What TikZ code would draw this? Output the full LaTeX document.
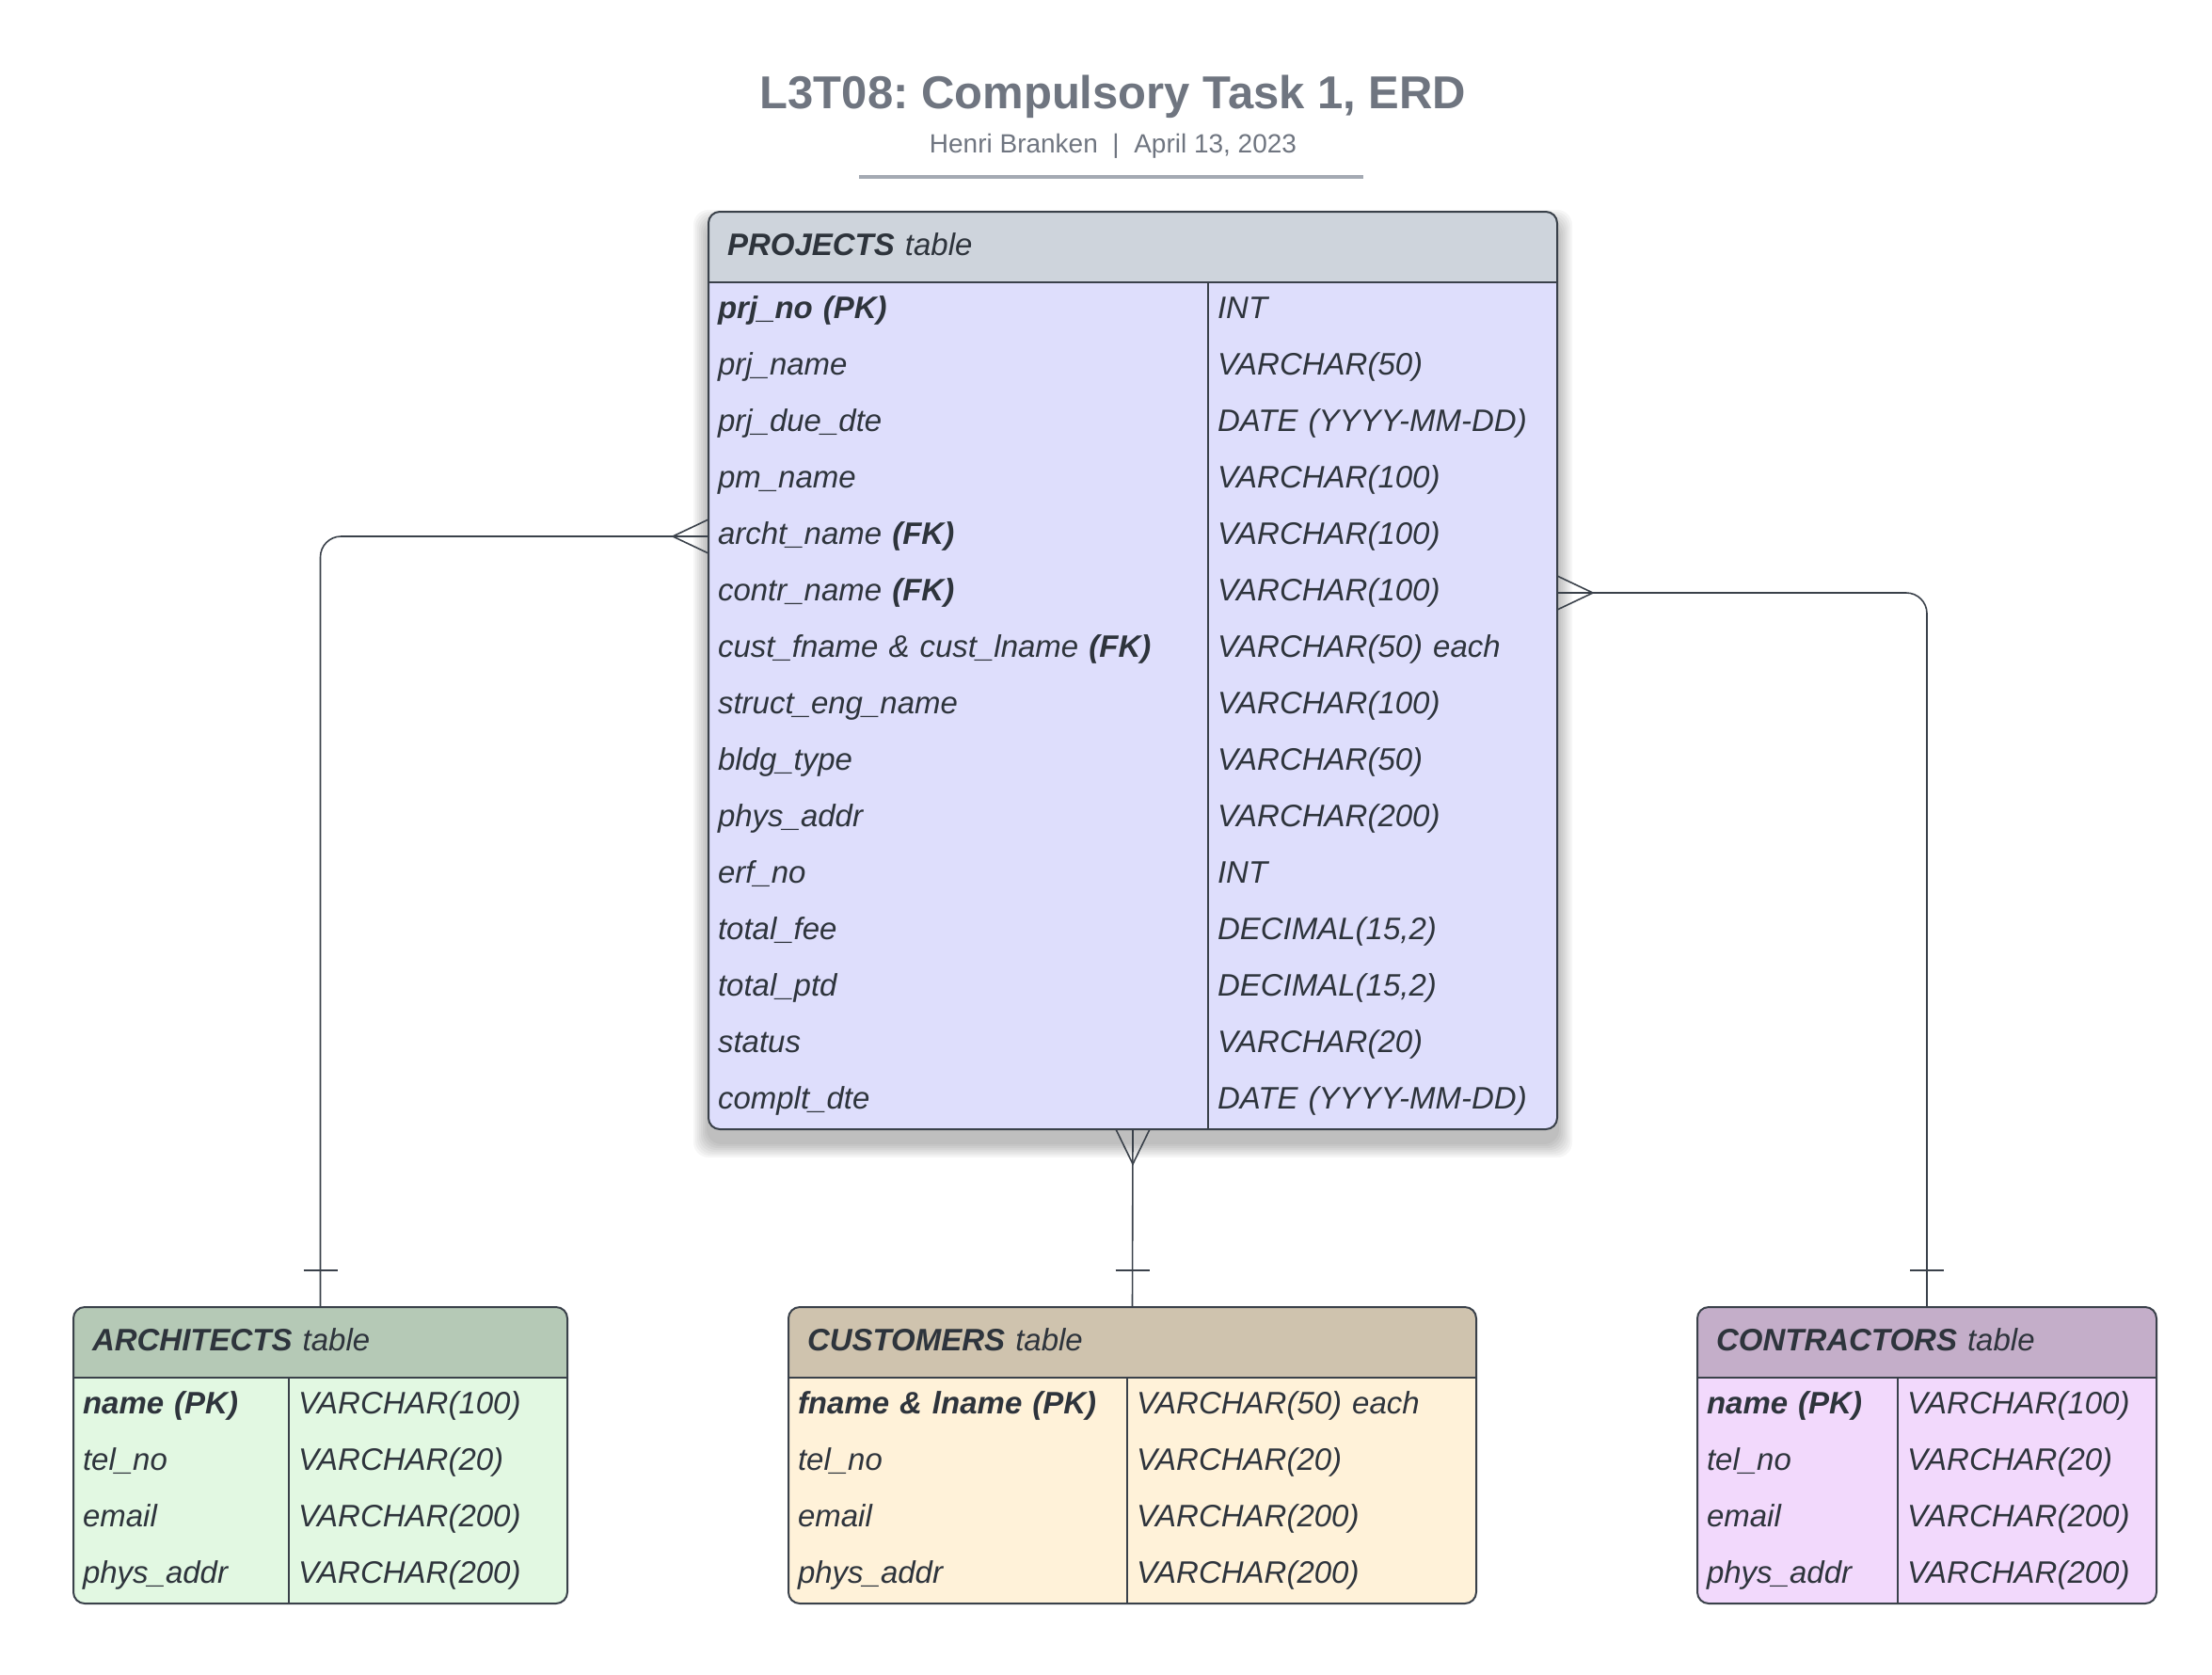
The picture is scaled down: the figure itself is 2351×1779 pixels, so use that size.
\documentclass[tikz,border=0pt]{standalone}
\usepackage{fontspec}
\setmainfont{Liberation Sans}
\frenchspacing
\usetikzlibrary{positioning,backgrounds,calc}

\definecolor{titlec}{RGB}{111,117,128}
\definecolor{rulec}{RGB}{164,170,179}
\definecolor{inkc}{RGB}{46,52,60}
\definecolor{linec}{RGB}{58,65,74}
\definecolor{prjhead}{RGB}{206,212,220}
\definecolor{prjbody}{RGB}{222,222,252}
\definecolor{archhead}{RGB}{181,201,182}
\definecolor{archbody}{RGB}{226,248,226}
\definecolor{custhead}{RGB}{207,195,174}
\definecolor{custbody}{RGB}{255,242,217}
\definecolor{conthead}{RGB}{196,174,201}
\definecolor{contbody}{RGB}{242,217,252}

\begin{document}
\begin{tikzpicture}[x=0.5pt, y=-0.5pt,
cell/.style={rectangle, outer sep=0pt, inner xsep=5pt, inner ysep=0pt, minimum height=30pt,
  align=left, text height=12pt, text depth=3.5pt, text=inkc,
  font=\fontsize{16.5}{19}\selectfont\itshape, node distance=0pt},
hdr/.style={cell, inner xsep=10pt, minimum height=37.5pt},
frame/.style={draw=linec, line width=1pt},
rel/.style={draw=linec, line width=.8pt}]

        \useasboundingbox (0,0) rectangle (2351,1779);

        % title
        \node [font=\fontsize{24.5}{29}\selectfont\bfseries, text=titlec] (title) at (1183,103) {L3T08: Compulsory Task 1, ERD};
        \node [font=\fontsize{14}{17}\selectfont, text=titlec] (sub) at (1183,155) {Henri Branken\ \ |\ \ April 13, 2023};
        \draw [rulec, line width=2pt] (913,188) -- (1449,188);

        % PROJECTS
        \node [hdr, text width=431pt, anchor=north west] (prj0) at (753,225) {\textbf{PROJECTS} table};
        \foreach \k/\t [count=\i, remember=\i as \j (initially 0)] in {
            {\textbf{prj\_no (PK)}}/INT, prj\_name/VARCHAR(50), prj\_due\_dte/DATE (YYYY-MM-DD),
            pm\_name/VARCHAR(100), {archt\_name \textbf{(FK)}}/VARCHAR(100),
            {contr\_name \textbf{(FK)}}/VARCHAR(100), {cust\_fname \& cust\_lname \textbf{(FK)}}/VARCHAR(50) each,
            struct\_eng\_name/VARCHAR(100), bldg\_type/VARCHAR(50), phys\_addr/VARCHAR(200),
            erf\_no/INT, total\_fee/{DECIMAL(15,2)}, total\_ptd/{DECIMAL(15,2)},
            status/VARCHAR(20), complt\_dte/DATE (YYYY-MM-DD)} {
            \node [cell, text width=255.5pt, below right=of prj\j.south west] (prj\i) {\k};
            \node [cell, text width=175.5pt, right=of prj\i] (prjt\i) {\t};
        }

        % ARCHITECTS
        \node [hdr, text width=242.5pt, anchor=north west] (arch0) at (78,1389) {\textbf{ARCHITECTS} table};
        \foreach \k/\t [count=\i, remember=\i as \j (initially 0)] in {
            {\textbf{name (PK)}}/VARCHAR(100), tel\_no/VARCHAR(20), email/VARCHAR(200), phys\_addr/VARCHAR(200)} {
            \node [cell, text width=104.5pt, below right=of arch\j.south west] (arch\i) {\k};
            \node [cell, text width=138pt, right=of arch\i] (archt\i) {\t};
        }

        % CUSTOMERS
        \node [hdr, text width=345.5pt, anchor=north west] (cust0) at (838,1389) {\textbf{CUSTOMERS} table};
        \foreach \k/\t [count=\i, remember=\i as \j (initially 0)] in {
            {\textbf{fname \& lname (PK)}}/VARCHAR(50) each, tel\_no/VARCHAR(20), email/VARCHAR(200), phys\_addr/VARCHAR(200)} {
            \node [cell, text width=170pt, below right=of cust\j.south west] (cust\i) {\k};
            \node [cell, text width=175.5pt, right=of cust\i] (custt\i) {\t};
        }

        % CONTRACTORS
        \node [hdr, text width=224pt, anchor=north west] (cont0) at (1804,1389) {\textbf{CONTRACTORS} table};
        \foreach \k/\t [count=\i, remember=\i as \j (initially 0)] in {
            {\textbf{name (PK)}}/VARCHAR(100), tel\_no/VARCHAR(20), email/VARCHAR(200), phys\_addr/VARCHAR(200)} {
            \node [cell, text width=96.5pt, below right=of cont\j.south west] (cont\i) {\k};
            \node [cell, text width=127.5pt, right=of cont\i] (contt\i) {\t};
        }

        \begin{scope}[on background layer]
            % soft shadow under PROJECTS
            \foreach \s in {2,4,...,16}
                \fill [black, opacity=.035, rounded corners=8pt] ($(prj0.north west)+(-\s,14-\s)$) rectangle ($(prjt15.south east)+(\s,14+\s)$);
            \foreach \tb/\n/\hc/\bc in {prj/15/prjhead/prjbody, arch/4/archhead/archbody, cust/4/custhead/custbody, cont/4/conthead/contbody} {
                \fill [\bc, rounded corners=6pt] (\tb0.north west) rectangle (\tb t\n.south east);
                \fill [\hc, rounded corners=6pt] (\tb0.north west) rectangle (\tb0.south east);
                \fill [\hc] (\tb0.west) rectangle (\tb0.south east);
            }
        \end{scope}

        \foreach \tb/\n in {prj/15, arch/4, cust/4, cont/4} {
            \draw [frame, rounded corners=6pt] (\tb0.north west) rectangle (\tb t\n.south east);
            \draw [frame] (\tb0.south west) -- (\tb0.south east);
            \draw [frame] (\tb t1.north west) -- (\tb t\n.south west);
        }

        % relationships
        \coordinate (prjB) at (prj0.center |- prjt15.south);

        \draw [rel, rounded corners=11pt] (prj5.west) -| (arch0.north);
        \draw [rel] ($(prj5.west)+(0,-18)$) -- ($(prj5.west)+(-38,0)$) -- ($(prj5.west)+(0,18)$);
        \draw [rel] ($(arch0.north)+(-18,-39)$) -- ($(arch0.north)+(18,-39)$);

        \draw [rel, rounded corners=11pt] (prjt6.east) -| (cont0.north);
        \draw [rel] ($(prjt6.east)+(0,-18)$) -- ($(prjt6.east)+(38,0)$) -- ($(prjt6.east)+(0,18)$);
        \draw [rel] ($(cont0.north)+(-18,-39)$) -- ($(cont0.north)+(18,-39)$);

        \draw [rel] (prjB) -- (cust0.north);
        \draw [rel] ($(prjB)+(-18,0)$) -- ($(prjB)+(0,37)$) -- ($(prjB)+(18,0)$);
        \draw [rel] ($(cust0.north)+(-18,-39)$) -- ($(cust0.north)+(18,-39)$);
    \end{tikzpicture}
\end{document}
